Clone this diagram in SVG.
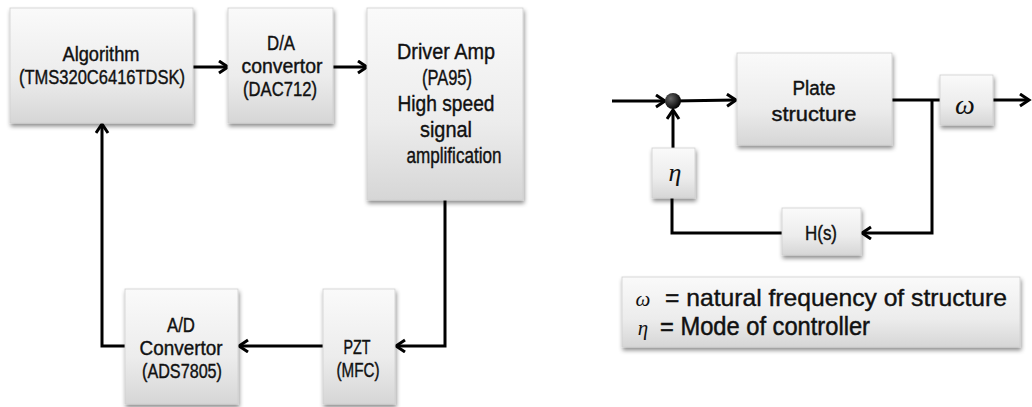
<svg xmlns="http://www.w3.org/2000/svg" width="1032" height="407" viewBox="0 0 1032 407">
<style>
.box{fill:url(#g);stroke:#cfcfcf;stroke-width:0.8;filter:url(#sh)}
.t{font-family:"Liberation Sans",Arial,sans-serif;font-size:20px;fill:#111;stroke:#111;stroke-width:0.4;text-anchor:middle}
.big{font-size:22px}
.l1{font-size:24px;text-anchor:start}
.l2{font-size:26px;text-anchor:start;stroke-width:0.5}
.m{font-family:"Liberation Serif","Times New Roman",serif;font-style:italic;fill:#111;text-anchor:middle}
.c{fill:none;stroke:#000;stroke-width:3}
</style>
<defs>
<linearGradient id="g" x1="0" y1="0" x2="0" y2="1">
<stop offset="0" stop-color="#fafafa"/>
<stop offset="0.6" stop-color="#ececec"/>
<stop offset="1" stop-color="#d6d6d6"/>
</linearGradient>
<radialGradient id="dg" cx="0.35" cy="0.35" r="0.7">
<stop offset="0" stop-color="#666"/>
<stop offset="1" stop-color="#000"/>
</radialGradient>
<filter id="sh" x="-10%" y="-10%" width="125%" height="130%">
<feDropShadow dx="1" dy="3" stdDeviation="2" flood-color="#000" flood-opacity="0.45"/>
</filter>
<marker id="a" markerUnits="userSpaceOnUse" markerWidth="14" markerHeight="16" refX="11" refY="7" orient="auto">
<path d="M2,1 L11,7 L2,13" fill="none" stroke="#000" stroke-width="3"/>
</marker>
</defs>

<g id="connectors">
<line class="c" x1="193" y1="67" x2="228" y2="67" marker-end="url(#a)"/>
<line class="c" x1="333" y1="67" x2="367" y2="67" marker-end="url(#a)"/>
<polyline class="c" points="445,200 445,346 396,346" marker-end="url(#a)"/>
<line class="c" x1="323" y1="346" x2="239" y2="346" marker-end="url(#a)"/>
<polyline class="c" points="125,346 102,346 102,124" marker-end="url(#a)"/>
<line class="c" x1="612" y1="101" x2="665" y2="101" marker-end="url(#a)"/>
<line class="c" x1="673" y1="101" x2="736" y2="100" marker-end="url(#a)"/>
<line class="c" x1="673" y1="148" x2="673" y2="110" marker-end="url(#a)"/>
<line class="c" x1="892" y1="100" x2="940" y2="100"/>
<line class="c" x1="993" y1="100" x2="1029" y2="100" marker-end="url(#a)"/>
<polyline class="c" points="932,100 932,233 862,233" marker-end="url(#a)"/>
<polyline class="c" points="782,233 672,233 672,198"/>
</g>

<g id="algorithm">
<rect class="box" x="10" y="8" width="183" height="115"/>
<text class="t" x="101" y="61" textLength="77" lengthAdjust="spacingAndGlyphs">Algorithm</text>
<text class="t" x="102" y="84" textLength="166" lengthAdjust="spacingAndGlyphs">(TMS320C6416TDSK)</text>
</g>
<g id="da">
<rect class="box" x="228" y="8" width="105" height="115"/>
<text class="t" x="281" y="50" textLength="28" lengthAdjust="spacingAndGlyphs">D/A</text>
<text class="t" x="282" y="73" textLength="81" lengthAdjust="spacingAndGlyphs">convertor</text>
<text class="t" x="280" y="96" textLength="74" lengthAdjust="spacingAndGlyphs">(DAC712)</text>
</g>
<g id="driver">
<rect class="box" x="367" y="8" width="156" height="192"/>
<text class="t big" x="446" y="59" textLength="98" lengthAdjust="spacingAndGlyphs">Driver Amp</text>
<text class="t big" x="447" y="85" textLength="50" lengthAdjust="spacingAndGlyphs">(PA95)</text>
<text class="t big" x="446" y="111" textLength="97" lengthAdjust="spacingAndGlyphs">High speed</text>
<text class="t big" x="446" y="137" textLength="52" lengthAdjust="spacingAndGlyphs">signal</text>
<text class="t big" x="454" y="163" textLength="95" lengthAdjust="spacingAndGlyphs">amplification</text>
</g>
<g id="pzt">
<rect class="box" x="323" y="289" width="72" height="115"/>
<text class="t" x="357" y="354" textLength="27" lengthAdjust="spacingAndGlyphs">PZT</text>
<text class="t" x="358" y="377" textLength="43" lengthAdjust="spacingAndGlyphs">(MFC)</text>
</g>
<g id="ad">
<rect class="box" x="125" y="289" width="113" height="115"/>
<text class="t" x="181" y="332" textLength="28" lengthAdjust="spacingAndGlyphs">A/D</text>
<text class="t" x="181" y="355" textLength="83" lengthAdjust="spacingAndGlyphs">Convertor</text>
<text class="t" x="182" y="378" textLength="80" lengthAdjust="spacingAndGlyphs">(ADS7805)</text>
</g>

<g id="sum">
<circle cx="673" cy="101" r="8" fill="url(#dg)"/>
</g>
<g id="plate">
<rect class="box" x="737" y="53" width="155" height="92"/>
<text class="t" x="814" y="95" textLength="43" lengthAdjust="spacingAndGlyphs">Plate</text>
<text class="t" x="814" y="121" textLength="85" lengthAdjust="spacingAndGlyphs">structure</text>
</g>
<g id="omega">
<rect class="box" x="940" y="75" width="53" height="50"/>
<text class="m" x="965" y="114" font-size="28">ω</text>
</g>
<g id="eta">
<rect class="box" x="652" y="148" width="43" height="50"/>
<text class="m" x="675" y="181" font-size="26">η</text>
</g>
<g id="hs">
<rect class="box" x="782" y="208" width="79" height="47"/>
<text class="t" x="821" y="240" textLength="32" lengthAdjust="spacingAndGlyphs">H(s)</text>
</g>
<g id="legend">
<rect class="box" x="622" y="277" width="398" height="70"/>
<text class="m" x="643" y="306" font-size="21">ω</text>
<text class="t l1" x="665" y="306" textLength="342" lengthAdjust="spacingAndGlyphs">= natural frequency of structure</text>
<text class="m" x="643" y="335" font-size="21">η</text>
<text class="t l2" x="660" y="335" textLength="210" lengthAdjust="spacingAndGlyphs">= Mode of controller</text>
</g>
</svg>
